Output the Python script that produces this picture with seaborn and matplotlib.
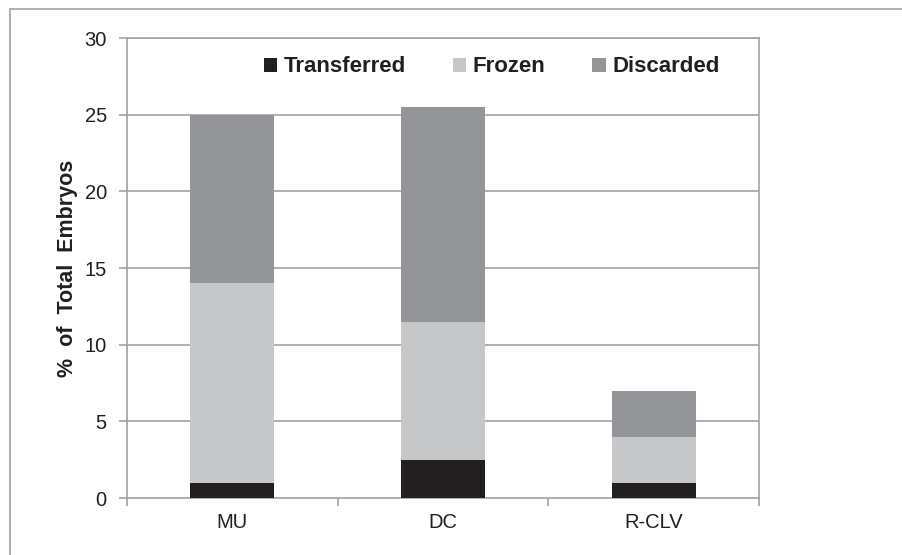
import matplotlib
matplotlib.use("Agg")
from matplotlib import pyplot as plt
from matplotlib.patches import Patch
from matplotlib.lines import Line2D
import numpy as np
import pandas as pd
import seaborn as sns

groups = ["MU", "DC", "R-CLV"]
transferred = [1.0, 2.5, 1.0]
frozen = [13.0, 9.0, 3.0]
discarded = [11.0, 14.0, 3.0]
series_names = ["Transferred", "Frozen", "Discarded"]
series_colors = ["#231f20", "#c6c7c9", "#939598"]
yticks = [0, 5, 10, 15, 20, 25, 30]

sns.set_theme(style="white")
plt.rcParams['font.family'] = ['Liberation Sans', 'DejaVu Sans']

df = pd.DataFrame({"group": groups, "Transferred": transferred,
                   "Frozen": frozen, "Discarded": discarded})
# cumulative heights for stacking (draw tallest first)
df["top_frozen"] = df["Transferred"] + df["Frozen"]
df["top_discarded"] = df["top_frozen"] + df["Discarded"]

fig = plt.figure(figsize=(9.03, 5.55), dpi=100)
ax = fig.add_axes([127/903, 1-498/555, 632/903, 460/555])

grid_col = "#a3a3a3"
for y in yticks[1:]:
    ax.axhline(y, color=grid_col, lw=1.2, zorder=0)

sns.barplot(data=df, x="group", y="top_discarded", color=series_colors[2],
            width=0.4, saturation=1, ax=ax, zorder=2, linewidth=0)
sns.barplot(data=df, x="group", y="top_frozen", color=series_colors[1],
            width=0.4, saturation=1, ax=ax, zorder=3, linewidth=0)
sns.barplot(data=df, x="group", y="Transferred", color=series_colors[0],
            width=0.4, saturation=1, ax=ax, zorder=4, linewidth=0)

ax.set_xlim(-0.5, 2.5)
ax.set_ylim(0, 30)
ax.set_yticks(yticks)
ax.set_xticks([0, 1, 2])
ax.set_xticklabels(groups)
ax.set_xticks([-0.5, 0.5, 1.5, 2.5], minor=True)
ax.tick_params(axis="x", which="major", length=0, pad=11, labelsize=14.5, labelcolor="#231f20")
ax.tick_params(axis="x", which="minor", length=6, width=1.2, color=grid_col, direction="out", bottom=True)
ax.tick_params(axis="y", length=6, width=1.2, color=grid_col, direction="out", left=True,
               labelsize=14.5, labelcolor="#231f20", pad=8.5)
ax.set_xlabel("")
ax.set_ylabel("%  of  Total  Embryos", fontsize=15.5, fontweight="bold", color="#231f20", labelpad=5)
for side in ["left", "bottom", "right", "top"]:
    ax.spines[side].set_color(grid_col)
    ax.spines[side].set_linewidth(1.2)

handles = [Patch(facecolor=c, edgecolor="none") for c in series_colors]
leg = ax.legend(handles, series_names, ncol=3, frameon=False, loc="center left",
                bbox_to_anchor=(0.2168, 0.937), borderaxespad=0, borderpad=0,
                handlelength=0.6, handleheight=0.6,
                handletextpad=0.3, columnspacing=2.1,
                prop={"weight": "bold", "size": 16})
for t in leg.get_texts():
    t.set_color("#231f20")

# outer frame (only left and top edges visible)
fig.add_artist(Line2D([10/903, 1], [1-9/555, 1-9/555], color="#a8a8a8", lw=1.3))
fig.add_artist(Line2D([10/903, 10/903], [0, 1-9/555], color="#a8a8a8", lw=1.3))

fig.savefig("out.png", dpi=100, facecolor="white")
